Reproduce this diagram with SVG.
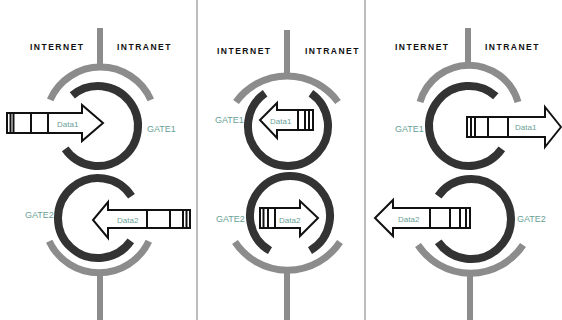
<svg xmlns="http://www.w3.org/2000/svg" width="562" height="320" viewBox="0 0 562 320">
<style>
.ring{fill:none;stroke:#333;stroke-width:8}
.arc{fill:none;stroke:#8c8c8c;stroke-width:7}
.stem{stroke:#8c8c8c;stroke-width:6}
.div{stroke:#bdbdbd;stroke-width:2}
.arr{fill:#fff;stroke:#111;stroke-width:2;stroke-linejoin:miter}
.cell{stroke:#111;stroke-width:2}
.zone{font-family:"Liberation Sans",Arial,sans-serif;font-weight:bold;font-size:8.5px;letter-spacing:1.5px;fill:#111}
.gate{font-family:"Liberation Sans",Arial,sans-serif;font-size:9px;fill:#6a9f97}
.data{font-family:"Liberation Sans",Arial,sans-serif;font-size:8px;fill:#6a9f97}
</style>
<rect width="562" height="320" fill="#fff"/>
<g id="dividers">
<line class="div" x1="197" y1="0" x2="197" y2="320"/>
<line class="div" x1="365" y1="0" x2="365" y2="320"/>
</g>
<g id="panel1">
<g id="p1-labels">
<text class="zone" x="30" y="50">INTERNET</text>
<text class="zone" x="117" y="50">INTRANET</text>
</g>
<g id="p1-wall">
<line class="stem" x1="100" y1="28" x2="100" y2="68"/>
<path class="arc" d="M50.2,99.8 A55,55 0 0 1 150.8,99.8"/>
<path class="arc" d="M49.2,241.2 A55,55 0 0 0 148.8,241.2"/>
<line class="stem" x1="100" y1="273" x2="100" y2="320"/>
</g>
<g id="p1-gate1">
<path class="ring" d="M72.3,95.4 A40,40 0 1 1 65.2,148.9"/>
<text class="gate" x="147" y="132">GATE1</text>
</g>
<g id="p1-gate2">
<path class="ring" d="M130.8,240.9 A40,40 0 1 1 131.5,196.2"/>
<text class="gate" x="25" y="218">GATE2</text>
</g>
<g id="p1-data1">
<path class="arr" d="M7,113 H82 V105 L103,123 L82,141 V133 H7 Z"/>
<line class="cell" x1="10.5" y1="113" x2="10.5" y2="133"/>
<line class="cell" x1="13.5" y1="113" x2="13.5" y2="133"/>
<line class="cell" x1="31" y1="113" x2="31" y2="133"/>
<line class="cell" x1="48" y1="113" x2="48" y2="133"/>
<text class="data" x="57" y="127">Data1</text>
</g>
<g id="p1-data2">
<path class="arr" d="M190,210 H108 V202 L93,220 L108,238 V228 H190 Z"/>
<line class="cell" x1="147" y1="210" x2="147" y2="228"/>
<line class="cell" x1="170" y1="210" x2="170" y2="228"/>
<line class="cell" x1="183" y1="210" x2="183" y2="228"/>
<line class="cell" x1="186.5" y1="210" x2="186.5" y2="228"/>
<text class="data" x="117" y="223">Data2</text>
</g>
</g>
<g id="panel2">
<g id="p2-labels">
<text class="zone" x="217" y="54">INTERNET</text>
<text class="zone" x="305" y="54">INTRANET</text>
</g>
<g id="p2-wall">
<line class="stem" x1="287" y1="30" x2="287" y2="76"/>
<path class="arc" d="M236,102 A63,63 0 0 1 338,102"/>
<path class="arc" d="M235,242 A63,63 0 0 0 340,242"/>
<line class="stem" x1="287" y1="270" x2="287" y2="320"/>
</g>
<g id="p2-gate1">
<path class="ring" d="M310.9,93.2 A40,40 0 1 1 265.1,93.2"/>
<text class="gate" x="215" y="123">GATE1</text>
</g>
<g id="p2-gate2">
<path class="ring" d="M270,250.6 A40,40 0 1 1 310,250.6"/>
<text class="gate" x="216" y="222">GATE2</text>
</g>
<g id="p2-data1">
<path class="arr" d="M313,110 H277 V103 L260,120 L277,138 V130 H313 Z"/>
<line class="cell" x1="298" y1="110" x2="298" y2="130"/>
<line class="cell" x1="305" y1="110" x2="305" y2="130"/>
<line class="cell" x1="309" y1="110" x2="309" y2="130"/>
<text class="data" x="270" y="124">Data1</text>
</g>
<g id="p2-data2">
<path class="arr" d="M260,208 H300 V201 L318,218 L300,236 V228 H260 Z"/>
<line class="cell" x1="263.5" y1="208" x2="263.5" y2="228"/>
<line class="cell" x1="268" y1="208" x2="268" y2="228"/>
<line class="cell" x1="275" y1="208" x2="275" y2="228"/>
<text class="data" x="279" y="223">Data2</text>
</g>
</g>
<g id="panel3">
<g id="p3-labels">
<text class="zone" x="395" y="50">INTERNET</text>
<text class="zone" x="485" y="50">INTRANET</text>
</g>
<g id="p3-wall">
<line class="stem" x1="468" y1="28" x2="468" y2="65"/>
<path class="arc" d="M420,102 A51,51 0 0 1 518,102"/>
<path class="arc" d="M418,245 A63,63 0 0 0 523,245"/>
<line class="stem" x1="470" y1="273" x2="470" y2="320"/>
</g>
<g id="p3-gate1">
<path class="ring" d="M501.8,148.9 A40,40 0 1 1 495.8,96.3"/>
<text class="gate" x="395" y="132">GATE1</text>
</g>
<g id="p3-gate2">
<path class="ring" d="M438.2,196.1 A40,40 0 1 1 438.2,241.9"/>
<text class="gate" x="517" y="222">GATE2</text>
</g>
<g id="p3-data1">
<path class="arr" d="M467,117 H545 V107 L561,127 L545,147 V137 H467 Z"/>
<line class="cell" x1="471" y1="117" x2="471" y2="137"/>
<line class="cell" x1="475" y1="117" x2="475" y2="137"/>
<line class="cell" x1="488" y1="117" x2="488" y2="137"/>
<line class="cell" x1="508" y1="117" x2="508" y2="137"/>
<text class="data" x="515" y="130">Data1</text>
</g>
<g id="p3-data2">
<path class="arr" d="M470,208 H393 V200 L375,218 L393,236 V228 H470 Z"/>
<line class="cell" x1="430" y1="208" x2="430" y2="228"/>
<line class="cell" x1="450" y1="208" x2="450" y2="228"/>
<line class="cell" x1="460" y1="208" x2="460" y2="228"/>
<line class="cell" x1="466" y1="208" x2="466" y2="228"/>
<text class="data" x="398" y="222">Data2</text>
</g>
</g>
</svg>
